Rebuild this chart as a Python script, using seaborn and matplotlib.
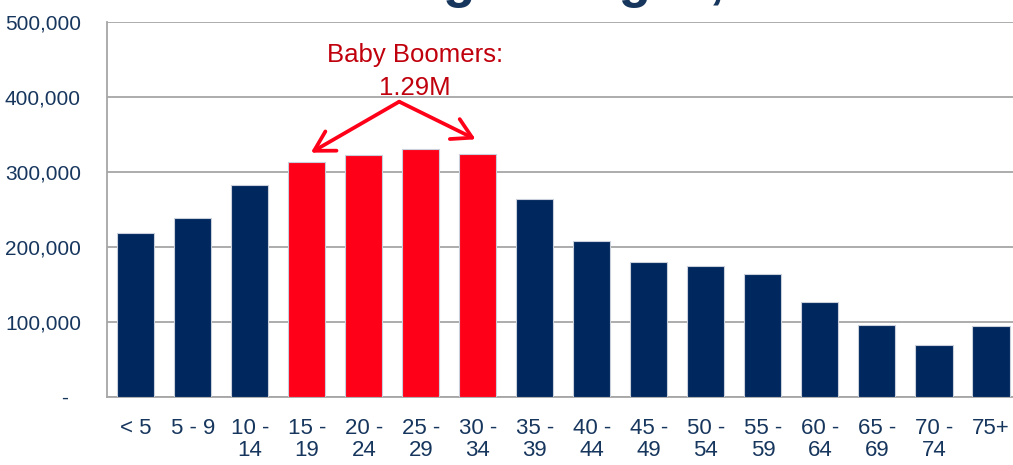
import matplotlib
matplotlib.use("Agg")
import matplotlib.pyplot as plt
import matplotlib.transforms as mtransforms
import seaborn as sns
import pandas as pd

# ---- data ----
age_groups = ["< 5", "5 - 9", "10 -\n14", "15 -\n19", "20 -\n24", "25 -\n29", "30 -\n34",
              "35 -\n39", "40 -\n44", "45 -\n49", "50 -\n54", "55 -\n59", "60 -\n64",
              "65 -\n69", "70 -\n74", "75+"]
population = [218200, 238600, 282300, 313000, 322400, 331200, 323700,
              263500, 207500, 179900, 174500, 164300, 126500, 95300, 68600, 95000]
boomer_groups = ["15 -\n19", "20 -\n24", "25 -\n29", "30 -\n34"]
y_ticks = [0, 100000, 200000, 300000, 400000, 500000]
y_ticklabels = ["-", "100,000", "200,000", "300,000", "400,000", "500,000"]
title_text = "Age Ranges, 2010"
note_line1 = "Baby Boomers:"
note_line2 = "1.29M"

NAVY = "#00285E"
RED = "#FF0019"
TEXT_NAVY = "#17365D"
NOTE_RED = "#C0000C"
GRID = "#A6A6A6"

sns.set_theme(style="white")
plt.rcParams["font.family"] = ["Liberation Sans Narrow", "Liberation Sans", "DejaVu Sans"]

df = pd.DataFrame({
    "age": age_groups,
    "pop": population,
    "group": ["boomer" if a in boomer_groups else "other" for a in age_groups],
})

fig = plt.figure(figsize=(10.13, 4.65), dpi=100)
ax = fig.add_axes([107.3 / 1013, 1 - 396.7 / 465, (1019.5 - 107.3) / 1013, (396.7 - 22.3) / 465])

sns.barplot(data=df, x="age", y="pop", hue="group", order=age_groups,
            palette={"boomer": RED, "other": NAVY}, dodge=False, width=0.65,
            saturation=1, legend=False, edgecolor="#C9D0DC", linewidth=0.8,
            ax=ax, zorder=3)

ax.set_ylim(0, 500000)
ax.set_xlim(-0.5, len(age_groups) - 0.5)
ax.set_yticks(y_ticks)
ax.set_yticklabels(y_ticklabels)
ax.set_xlabel("")
ax.set_ylabel("")

ax.yaxis.grid(True, color=GRID, linewidth=1.3, zorder=0)
ax.set_axisbelow(True)
for s in ["top", "right"]:
    ax.spines[s].set_visible(False)
for s in ["left", "bottom"]:
    ax.spines[s].set_color(GRID)
    ax.spines[s].set_linewidth(1.3)

# tick styling
ax.tick_params(axis="y", length=5, width=1.3, color=GRID, pad=14,
               labelsize=15, labelcolor=TEXT_NAVY)
ax.tick_params(axis="x", which="major", length=0, pad=15,
               labelsize=16, labelcolor=TEXT_NAVY)
ax.set_xticks([i + 0.5 for i in range(-1, len(age_groups))], minor=True)
ax.tick_params(axis="x", which="minor", length=7, width=1.3, color=GRID)
for lab in ax.get_xticklabels():
    lab.set_linespacing(1.1)

# shift the "-" zero label left (accounting style)
zero_lab = ax.get_yticklabels()[0]
zero_lab.set_transform(zero_lab.get_transform() +
                       mtransforms.ScaledTranslation(-9 / 72, 0, fig.dpi_scale_trans))

# Baby boomer annotation
ax.text(4.90, 446600, note_line1, ha="center", va="baseline", fontsize=18.5,
        color=NOTE_RED, family=["Liberation Sans", "DejaVu Sans"])
ax.text(4.90, 402900, note_line2, ha="center", va="baseline", fontsize=18.5,
        color=NOTE_RED, family=["Liberation Sans", "DejaVu Sans"])
arrow = dict(arrowstyle="->,head_length=0.7,head_width=0.4", color=RED, lw=2.7,
             mutation_scale=20, shrinkA=0, shrinkB=0)
ax.annotate("", xy=(3.07, 325900), xytext=(4.62, 394000), arrowprops=arrow)
ax.annotate("", xy=(5.96, 343700), xytext=(4.62, 394000), arrowprops=arrow)

# cut-off title at the top
fig.text(405 / 1013, 1 + 3 / 465, title_text, ha="left", va="baseline",
         fontsize=38, fontweight="bold", color=TEXT_NAVY,
         family=["Liberation Sans", "DejaVu Sans"])

fig.savefig("out.png", dpi=100)
